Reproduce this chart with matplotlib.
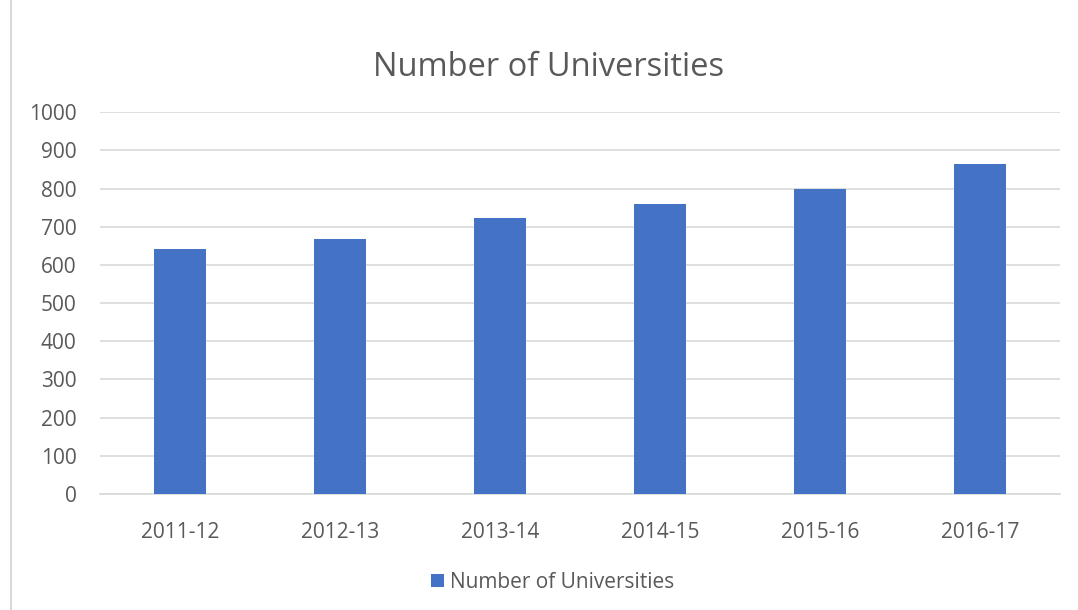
import matplotlib
matplotlib.use("Agg")
import matplotlib.pyplot as plt
from matplotlib.lines import Line2D
from matplotlib.patches import Patch

categories = ["2011-12", "2012-13", "2013-14", "2014-15", "2015-16", "2016-17"]
universities = [642, 667, 723, 760, 799, 864]
yticks = [0, 100, 200, 300, 400, 500, 600, 700, 800, 900, 1000]

plt.rcParams['font.family'] = ['Open Sans', 'DejaVu Sans']
W, H = 1078, 610
fig = plt.figure(figsize=(W/100, H/100), dpi=100)
ax = fig.add_axes([100/W, 1-494/H, 960/W, (494-112.3)/H])

text_c = '#595959'
ax.bar(range(len(categories)), universities, width=0.32, color='#4472C4', zorder=3)
ax.set_xlim(-0.5, len(categories)-0.5)
ax.set_ylim(0, 1000)
ax.set_yticks(yticks)
ax.set_xticks(range(len(categories)))
ax.set_xticklabels(categories)
ax.grid(axis='y', color='#d9d9d9', linewidth=1.2, zorder=0)
for s in ['top', 'right', 'left']:
    ax.spines[s].set_visible(False)
ax.spines['bottom'].set_color('#d9d9d9')
ax.spines['bottom'].set_linewidth(1.2)
ax.tick_params(axis='both', length=0, labelsize=15, colors=text_c)
ax.tick_params(axis='y', pad=17)
ax.tick_params(axis='x', pad=20)

fig.text(549/W, 1-67/H, "Number of Universities", ha='center', va='center',
         fontsize=23.5, color=text_c)

fig.legend(handles=[Patch(facecolor='#4472C4', label='Number of Universities')],
           loc='center', bbox_to_anchor=(553/W, 1-582/H), frameon=False,
           fontsize=15, labelcolor=text_c, handlelength=0.6, handleheight=0.6,
           handletextpad=0.3)

fig.add_artist(Line2D([11/W, 11/W], [0, 1], color='#d9d9d9', linewidth=1.5))

fig.savefig('out.png', dpi=100)
